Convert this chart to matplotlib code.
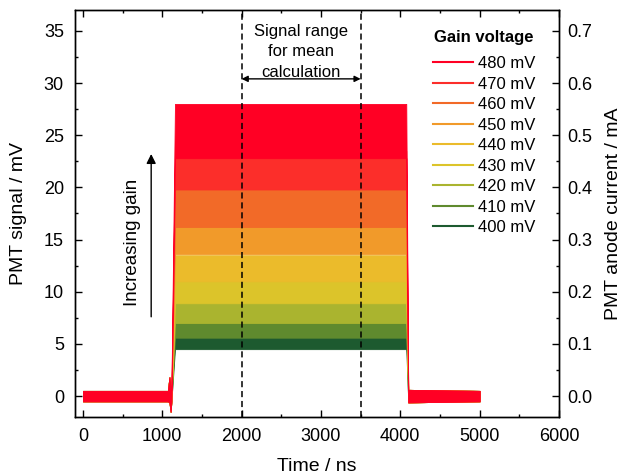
import numpy as np
import matplotlib
matplotlib.use("Agg")
import matplotlib.pyplot as plt
from matplotlib.lines import Line2D
from matplotlib.ticker import MultipleLocator, FormatStrFormatter

plt.rcParams['font.family'] = ['Liberation Sans', 'DejaVu Sans']
plt.rcParams['font.size'] = 13

# gain voltages (mV) and their trace colours
voltages = [400, 410, 420, 430, 440, 450, 460, 470, 480]
colors = ['#1d5a2f', '#5f8a2e', '#aab42f', '#dcc42a', '#ebbb2b',
          '#f19a2a', '#f26a28', '#fc2e2a', '#ff0024']

# plateau envelope of each noisy trace (mV)
plateau_low = [4.5, 5.6, 7.0, 8.9, 11.0, 13.6, 16.2, 19.8, 22.8]
plateau_high = [6.0, 7.5, 9.0, 11.5, 13.5, 16.5, 20.0, 23.5, 28.0]

# pulse timing (ns) and baseline envelope (mV), P = plateau
t_pts = [0, 1070, 1090, 1105, 1115, 1160, 4075, 4100, 5000]
base_low = [-0.5, -0.5, -0.6, -1.5, -0.5, 'P', 'P', -0.6, -0.5]
base_high = [0.5, 0.5, 1.8, 0.6, 0.6, 'P', 'P', 0.6, 0.5]

# range used for the mean
range_start = 2000
range_end = 3500

fig = plt.figure(figsize=(6.22, 4.76), dpi=100)
ax = fig.add_axes([0.1206, 0.124, 0.7781, 0.855])

for v, c, lo, hi in zip(voltages, colors, plateau_low, plateau_high):
    low = [lo if b == 'P' else b for b in base_low]
    high = [hi if b == 'P' else b for b in base_high]
    ax.fill_between(t_pts, low, high, color=c, lw=0.6, edgecolor=c)

ax.axvline(range_start, color='k', ls=(0, (4, 2.5)), lw=1.1)
ax.axvline(range_end, color='k', ls=(0, (4, 2.5)), lw=1.1)
ax.annotate('', xy=(range_start, 30.4), xytext=(range_end, 30.4),
            arrowprops=dict(arrowstyle='<|-|>', color='k', lw=1,
                            shrinkA=0, shrinkB=0, mutation_scale=9))
ax.text((range_start + range_end) / 2, 33.0, 'Signal range\nfor mean\ncalculation',
        ha='center', va='center', fontsize=12, linespacing=1.45)

ax.annotate('', xy=(860, 23.2), xytext=(860, 7.6),
            arrowprops=dict(arrowstyle='-|>', color='k', lw=1,
                            shrinkA=0, shrinkB=0, mutation_scale=14))
ax.text(620, 14.7, 'Increasing gain', rotation=90, ha='center', va='center',
        fontsize=13.5)

ax.set_xlim(-100, 6000)
ax.set_ylim(-2, 37)
ax.xaxis.set_major_locator(MultipleLocator(1000))
ax.xaxis.set_minor_locator(MultipleLocator(500))
ax.yaxis.set_major_locator(MultipleLocator(5))
ax.yaxis.set_minor_locator(MultipleLocator(2.5))
ax.tick_params(which='both', direction='in', top=True, labelsize=13)
ax.tick_params(which='major', length=5, width=1)
ax.tick_params(which='minor', length=2.5, width=1)
ax.tick_params(axis='y', pad=8)
ax.tick_params(axis='x', pad=8)
ax.set_xlabel('Time / ns', fontsize=14, labelpad=9)
ax.set_ylabel('PMT signal / mV', fontsize=14, labelpad=12)

ax2 = ax.twinx()
ax2.set_ylim(-2 / 50, 37 / 50)
ax2.yaxis.set_major_locator(MultipleLocator(0.1))
ax2.yaxis.set_minor_locator(MultipleLocator(0.05))
ax2.yaxis.set_major_formatter(FormatStrFormatter('%.1f'))
ax2.tick_params(which='both', direction='in', pad=6, labelsize=13)
ax2.tick_params(which='major', length=5, width=1)
ax2.tick_params(which='minor', length=2.5, width=1)
ax2.set_ylabel('PMT anode current / mA', fontsize=14, labelpad=9)

handles = [Line2D([], [], color=c, lw=1.5) for c in colors[::-1]]
labels = [f'{v} mV' for v in voltages[::-1]]
leg = ax.legend(handles, labels, loc='upper right',
                bbox_to_anchor=(0.975, 0.915), frameon=False, fontsize=12,
                handlelength=2.4, handletextpad=0.3, labelspacing=0.33,
                borderpad=0.2)
ax.text(0.845, 0.914, 'Gain voltage', transform=ax.transAxes, ha='center',
        va='bottom', fontsize=12, fontweight='bold')

for a in (ax, ax2):
    for s in a.spines.values():
        s.set_linewidth(1)

fig.savefig('out.png', dpi=100)
